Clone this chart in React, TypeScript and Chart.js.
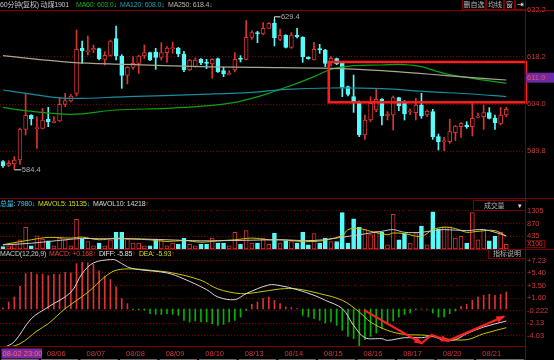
import React, { useEffect, useRef } from "react";
import { Chart, registerables } from "chart.js";

Chart.register(...registerables);

// ---------------- data ----------------
const opens = [586.7, 585.6, 586.0, 587.2, 596.4, 600.6, 596.6, 596.7, 599.4, 598.4,
  598.9, 603.9, 604.9, 607.2, 620.7, 619.7, 620.2, 620.6, 617.4, 618.6,
  623.6, 618.4, 612.6, 615.0, 616.2, 618.4, 619.4, 619.6, 618.0, 619.4,
  620.6, 620.8, 619.0, 614.2, 615.2, 617.4, 616.6, 616.0, 617.6, 614.0,
  612.9, 614.2, 617.8, 617.4, 624.0, 625.4, 625.0, 626.7, 628.2, 623.4,
  624.6, 621.0, 624.6, 624.0, 618.0, 617.2, 620.6, 620.2, 616.4, 617.6,
  616.2, 609.2, 606.2, 604.7, 594.7, 599.2, 602.2, 605.4, 600.4, 600.7,
  605.9, 604.2, 601.6, 601.4, 603.7, 600.7, 601.7, 594.2, 592.7, 592.7,
  595.4, 597.2, 597.7, 597.2, 600.0, 600.2, 601.4, 599.7, 598.0, 600.7];
const closes = [585.4, 586.2, 587.2, 596.5, 600.6, 599.6, 596.9, 599.2, 598.6, 598.9,
  603.9, 605.0, 606.4, 620.4, 620.0, 620.0, 620.7, 617.6, 618.6, 622.9,
  618.4, 612.6, 615.0, 616.2, 618.4, 619.4, 617.2, 618.0, 619.4, 620.8,
  620.8, 619.0, 614.2, 617.2, 617.2, 616.4, 616.2, 617.4, 613.7, 613.0,
  613.2, 617.4, 617.4, 624.0, 625.4, 625.0, 626.7, 628.2, 623.9, 624.6,
  621.0, 624.7, 624.2, 618.2, 617.6, 620.4, 620.2, 616.2, 617.7, 616.0,
  609.0, 606.9, 604.7, 594.7, 599.2, 604.2, 605.4, 600.4, 601.0, 605.9,
  603.5, 601.0, 601.9, 603.7, 600.4, 601.9, 594.2, 592.7, 593.0, 595.7,
  597.4, 598.2, 597.2, 599.7, 600.4, 601.4, 599.7, 598.4, 600.7, 602.4];
const highs = [587.0, 587.0, 588.2, 596.8, 607.2, 600.8, 600.2, 602.7, 603.0, 600.2,
  605.9, 607.2, 606.8, 626.2, 622.9, 624.4, 621.7, 620.8, 619.7, 623.2,
  627.4, 618.8, 615.2, 618.2, 618.6, 621.7, 619.6, 620.7, 622.4, 621.2,
  622.6, 621.0, 619.8, 617.4, 617.8, 617.6, 617.4, 617.6, 617.8, 615.0,
  614.0, 619.4, 618.5, 629.0, 626.0, 625.8, 628.4, 628.4, 629.4, 626.4,
  624.8, 625.4, 626.7, 624.2, 618.2, 622.5, 621.9, 620.4, 618.2, 617.8,
  616.4, 609.4, 612.7, 604.9, 600.7, 606.2, 608.7, 605.6, 601.7, 606.4,
  606.0, 605.0, 602.5, 605.7, 607.2, 602.2, 602.4, 595.0, 594.0, 599.4,
  597.6, 598.4, 598.7, 604.2, 601.3, 603.7, 602.9, 600.7, 603.0, 603.0];
const lows = [585.0, 585.2, 584.4, 585.9, 594.7, 597.7, 590.7, 596.5, 597.2, 598.3,
  598.7, 603.2, 604.6, 606.4, 616.2, 618.7, 619.4, 617.2, 615.7, 618.4,
  617.2, 608.7, 610.0, 614.4, 613.2, 617.7, 617.0, 614.4, 617.2, 616.5,
  619.2, 618.2, 613.7, 614.0, 615.0, 615.8, 614.6, 611.7, 613.5, 612.2,
  612.8, 613.6, 616.6, 617.2, 623.4, 622.4, 624.8, 626.7, 621.4, 623.0,
  620.8, 620.7, 623.8, 616.5, 617.4, 617.2, 619.2, 615.2, 615.4, 615.8,
  606.2, 606.4, 601.5, 594.2, 593.4, 598.7, 601.7, 597.7, 599.2, 596.2,
  602.0, 599.2, 600.8, 599.2, 599.7, 600.2, 593.4, 590.2, 590.0, 592.2,
  593.0, 594.0, 596.7, 594.4, 599.8, 596.4, 599.5, 596.4, 597.7, 600.2];

// volume in lots x100
const volumes = [80, 105, 164, 316, 748, 105, 456, 339, 281, 105,
  374, 316, 105, 1017, 339, 257, 105, 199, 105, 316,
  573, 573, 339, 199, 199, 105, 105, 339, 316, 105,
  199, 164, 374, 164, 105, 164, 164, 374, 199, 199,
  105, 573, 164, 631, 199, 199, 374, 164, 550, 199,
  281, 257, 199, 573, 140, 526, 199, 374, 257, 257,
  1251, 199, 1040, 748, 666, 491, 608, 573, 140, 1192,
  316, 526, 199, 526, 783, 140, 1274, 690, 760, 760,
  374, 433, 199, 1251, 316, 666, 281, 433, 573, 164];

const macdHist = [0.17, 1.05, 1.8, 3.4, 5.3, 5.5, 5.2, 5.2, 5.0, 5.2,
  5.2, 5.5, 5.4, 6.8, 7.0, 6.9, 6.7, 5.7, 4.9, 4.4,
  3.3, 1.55, 0.8, -0.1, -0.1, -0.2, -0.7, -0.8, -0.8, -0.7,
  -0.8, -0.95, -1.7, -1.95, -1.8, -1.95, -1.95, -2.2, -2.45, -2.3,
  -1.95, -1.7, -1.2, -0.2, 0.7, 1.05, 1.55, 1.8, 1.3, 0.8,
  0.3, 0.2, 0.05, -0.95, -1.2, -1.45, -1.7, -2.1, -1.95, -2.45,
  -3.2, -4.1, -4.45, -5.7, -4.6, -4.1, -3.6, -2.95, -2.3, -1.8,
  -1.2, -0.85, -0.6, -0.1, 0.03, -0.05, -0.6, -1.2, -1.2, -0.7,
  -0.3, 0.4, 0.7, 1.3, 1.8, 2.05, 2.2, 2.05, 2.2, 2.55];

// moving averages read at [bar index, value]
const ma60Pts = [[0, 603.0], [4, 602.0], [12, 600.9], [20, 602.2], [29, 602.7], [37, 603.6], [41, 604.5], [44, 605.7], [47, 607.2], [49, 608.4], [52, 610.2], [55, 612.2], [58, 614.4], [62, 615.5], [67, 615.7], [70, 615.9], [72, 615.7], [74, 615.2], [78, 613.2], [83, 611.7], [89, 610.2]];
const ma120Pts = [[0, 608.2], [4, 607.2], [11, 605.7], [22, 606.2], [35, 606.9], [44, 607.5], [50, 608.4], [58, 608.8], [67, 608.6], [75, 607.7], [83, 607.0], [89, 606.2]];
const ma250Pts = [[0, 618.5], [12, 616.5], [22, 615.9], [35, 615.2], [45, 615.0], [58, 614.7], [67, 614.0], [75, 613.0], [83, 611.9], [89, 611.2]];
const mavol5Pts = [[0, 151], [5, 316], [8, 397], [12, 374], [14, 409], [17, 316], [20, 374], [23, 339], [26, 316], [29, 257], [32, 292], [35, 234], [38, 281], [41, 316], [44, 374], [47, 316], [49, 316], [55, 257], [60, 456], [61, 666], [63, 701], [65, 608], [68, 491], [69, 550], [71, 526], [74, 433], [76, 666], [78, 748], [80, 701], [82, 573], [84, 608], [87, 631], [89, 433]];
const mavol10Pts = [[0, 142], [5, 199], [11, 316], [14, 362], [17, 351], [23, 351], [29, 316], [35, 281], [41, 292], [49, 316], [55, 292], [61, 433], [65, 550], [67, 608], [69, 666], [71, 573], [74, 573], [76, 631], [78, 666], [82, 631], [85, 666], [89, 456]];
const diffPts = [[0, -5.85], [2, -4.9], [5, -1.45], [8, 0.3], [12, 2.5], [14, 5.3], [16, 6.9], [19, 7.4], [20, 7.3], [22, 6.3], [24, 5.9], [29, 5.4], [32, 4.5], [36, 2.9], [38, 1.8], [41, 1.4], [43, 2.3], [47, 3.6], [49, 3.5], [52, 2.9], [55, 2.05], [57, 1.3], [60, 0.05], [62, -2.45], [64, -4.3], [67, -4.45], [68, -4.7], [71, -4.3], [74, -4.3], [76, -4.1], [78, -4.7], [80, -4.6], [82, -3.7], [85, -2.7], [89, -1.8]];
const deaPts = [[0, -5.93], [3, -5.2], [6, -3.3], [8, -2.2], [11, 0.05], [15, 2.5], [18, 4.8], [20, 5.8], [23, 6.0], [26, 5.8], [30, 5.4], [35, 4.3], [38, 3.0], [42, 2.3], [45, 2.5], [49, 3.0], [52, 3.0], [56, 2.3], [60, 1.3], [63, -0.45], [65, -1.95], [68, -3.2], [71, -3.8], [75, -3.95], [78, -4.45], [82, -4.6], [85, -3.7], [89, -2.8]];

// axis ticks & labels
const priceTicks = [632.2, 618.2, 604.0, 589.8];
const volTicks = [1305, 870, 435];
const macdTicks = [7.23, 5.40, 3.50, 1.60, -0.222, -2.13, -4.03];
const macdTickLabels = ["+7.23", "+5.40", "+3.50", "+1.60", "-0.222", "-2.13", "-4.03"];
const dayLabels = ["08/06", "08/07", "08/08", "08/09", "08/10", "08/13", "08/14", "08/15", "08/16", "08/17", "08/20", "08/21"];
const dayStarts = [7, 14, 21, 28, 35, 42, 49, 56, 63, 70, 77, 84];
const firstLabel = "08-02 23:00";
const markedPrice = 611.9;
const highMark = { idx: 48, value: 629.4 };
const lowMark = { idx: 2, value: 584.4 };
const markBox = { fromIdx: 57.6, top: 616.6, bottom: 604.5 };
const macdArrow = [[64, -0.25], [74, -5.13], [75.8, -3.9], [78.7, -4.75], [88.5, -1.15]];

// ---------------- styles ----------------
const FONT = '"Liberation Sans", "Noto Sans CJK SC", sans-serif';
const RED = "#dc3232";
const CYAN = "#54fcfc";
const GREEN = "#00b400";
const AXIS_TXT = "#d03a3a";
const PANEL_LINE = "#800000";
const GRID_DOT = "#7a0000";
const X_MIN = -0.53;
const X_MAX = 92.31;

const idxs = opens.map((_, i) => i);
const up = idxs.map((i) => closes[i] >= opens[i]);
const candleColor = idxs.map((i) => (up[i] ? RED : CYAN));
const candleFill = idxs.map((i) => (up[i] ? "#000000" : CYAN));
const toXY = (arr: number[][]) => arr.map(([x, y]) => ({ x, y }));

function lineDs(pts: number[][], color: string, width = 1) {
  return {
    type: "line" as const,
    data: toXY(pts),
    borderColor: color,
    borderWidth: width,
    pointRadius: 0,
    tension: 0.35,
    order: 1,
  };
}

function baseOptions(yMin: number, yMax: number, ticks: number[], labelFn: any, padding: any) {
  return {
    responsive: false,
    animation: false,
    events: [],
    layout: { padding },
    plugins: { legend: { display: false }, tooltip: { enabled: false } },
    scales: {
      x: { type: "linear", min: X_MIN, max: X_MAX, offset: false, display: false },
      y: {
        type: "linear",
        position: "right",
        min: yMin,
        max: yMax,
        afterFit: (s: any) => {
          s.width = 29;
          s.paddingTop = 0;
          s.paddingBottom = 0;
        },
        afterBuildTicks: (s: any) => {
          s.ticks = ticks.map((v) => ({ value: v }));
        },
        ticks: {
          color: AXIS_TXT,
          font: { family: FONT, size: 7.5 },
          padding: 2,
          autoSkip: false,
          callback: labelFn,
        },
        grid: { color: GRID_DOT, drawTicks: false, lineWidth: 1 },
        border: { display: false, dash: [1, 2] },
      },
    },
  };
}

const mainOverlay = {
  id: "mainOverlay",
  afterDraw(chart: any) {
    const { ctx, chartArea, scales } = chart;
    const xs = scales.x;
    const ys = scales.y;
    ctx.save();
    ctx.font = `7.5px ${FONT}`;
    ctx.textBaseline = "middle";
    ctx.textAlign = "left";
    // high mark
    let x = xs.getPixelForValue(highMark.idx);
    let y = ys.getPixelForValue(highMark.value);
    ctx.strokeStyle = "#e8e8e8";
    ctx.lineWidth = 1;
    ctx.beginPath();
    ctx.moveTo(Math.round(x) + 0.5, y);
    ctx.lineTo(Math.round(x) + 0.5, y - 2.5);
    ctx.lineTo(x + 6, y - 2.5);
    ctx.stroke();
    ctx.fillStyle = "#b0b0b0";
    ctx.fillText(highMark.value.toFixed(1), x + 6.5, y - 2);
    // low mark
    x = xs.getPixelForValue(lowMark.idx);
    y = ys.getPixelForValue(lowMark.value);
    ctx.beginPath();
    ctx.moveTo(x, y + 0.5);
    ctx.lineTo(x + 7, y + 0.5);
    ctx.stroke();
    ctx.fillText(lowMark.value.toFixed(1), x + 7.5, y + 0.5);
    // red box
    const x1 = xs.getPixelForValue(markBox.fromIdx);
    const x2 = chartArea.right + 1;
    const y1 = ys.getPixelForValue(markBox.top);
    const y2 = ys.getPixelForValue(markBox.bottom);
    ctx.strokeStyle = "#ff1e1e";
    ctx.lineWidth = 2.5;
    ctx.strokeRect(x1, y1, x2 - x1, y2 - y1);
    // marked price label
    const yp = ys.getPixelForValue(markedPrice);
    ctx.fillStyle = "#6c2aa6";
    ctx.fillRect(chartArea.right + 1, yp - 5, 29, 10);
    ctx.fillStyle = "#ff5050";
    ctx.fillText(markedPrice.toFixed(1), chartArea.right + 2, yp + 0.5);
    ctx.restore();
  },
};

const macdOverlay = {
  id: "macdOverlay",
  afterDraw(chart: any) {
    const { ctx, chartArea, scales } = chart;
    const xs = scales.x;
    const ys = scales.y;
    ctx.save();
    // arrows
    const p = macdArrow.map(([i, v]) => [xs.getPixelForValue(i), ys.getPixelForValue(v)]);
    ctx.strokeStyle = "#ff2020";
    ctx.fillStyle = "#ff2020";
    ctx.lineWidth = 2.2;
    ctx.lineCap = "round";
    ctx.beginPath();
    ctx.moveTo(p[0][0], p[0][1]);
    for (let k = 1; k < p.length; k++) ctx.lineTo(p[k][0], p[k][1]);
    ctx.stroke();
    const head = (a: number[], b: number[]) => {
      const ang = Math.atan2(b[1] - a[1], b[0] - a[0]);
      const L = 7;
      const W = 3.2;
      ctx.beginPath();
      ctx.moveTo(b[0] + Math.cos(ang) * 2, b[1] + Math.sin(ang) * 2);
      ctx.lineTo(b[0] - Math.cos(ang) * L + Math.sin(ang) * W, b[1] - Math.sin(ang) * L - Math.cos(ang) * W);
      ctx.lineTo(b[0] - Math.cos(ang) * L - Math.sin(ang) * W, b[1] - Math.sin(ang) * L + Math.cos(ang) * W);
      ctx.closePath();
      ctx.fill();
    };
    head(p[0], p[1]);
    head(p[2], p[3]);
    head(p[3], p[4]);
    // date labels
    const yText = chartArea.bottom + 7.5;
    ctx.font = `7.5px ${FONT}`;
    ctx.textBaseline = "middle";
    ctx.textAlign = "center";
    ctx.fillStyle = AXIS_TXT;
    dayStarts.forEach((d, k) => {
      ctx.fillText(dayLabels[k], xs.getPixelForValue(d) + 13.7, yText);
    });
    ctx.fillStyle = "#7a2a9e";
    ctx.fillRect(1.5, yText - 5, 40.5, 10);
    ctx.fillStyle = "#ff6a6a";
    ctx.textAlign = "left";
    ctx.fillText(firstLabel, 2.5, yText + 0.5);
    // bottom scroll tabs
    ctx.strokeStyle = "#6e6e6e";
    ctx.lineWidth = 1;
    const bounds = [chartArea.left, ...dayStarts.map((d) => xs.getPixelForValue(d - 0.5)), chartArea.right];
    for (let k = 0; k < bounds.length - 1; k++) {
      ctx.beginPath();
      ctx.moveTo(bounds[k] + 1.5, chartArea.bottom + 13.5);
      ctx.lineTo(bounds[k + 1] - 1.5, chartArea.bottom + 13.5);
      ctx.stroke();
    }
    ctx.restore();
  },
};

function ChartCanvas({ top, height, build }: { top: number; height: number; build: () => any }) {
  const ref = useRef<HTMLCanvasElement>(null);
  useEffect(() => {
    const chart = new Chart(ref.current as HTMLCanvasElement, build());
    return () => chart.destroy();
  }, []);
  return (
    <canvas
      ref={ref}
      width={554}
      height={height}
      style={{ position: "absolute", left: 0, top, width: 554, height }}
    />
  );
}

function buildMain() {
  return {
    type: "bar",
    data: {
      datasets: [
        lineDs(ma250Pts, "#a8a890", 1.2),
        lineDs(ma120Pts, "#1a8c9c", 1.2),
        lineDs(ma60Pts, "#10a010", 1.2),
        {
          type: "bar",
          data: idxs.map((i) => ({ x: i, y: [opens[i], closes[i]] })),
          backgroundColor: candleFill,
          borderColor: candleColor,
          borderWidth: 1,
          borderSkipped: false,
          barThickness: 4,
          minBarLength: 1,
          grouped: false,
          order: 2,
        },
        {
          type: "bar",
          data: idxs.map((i) => ({ x: i, y: [lows[i], highs[i]] })),
          backgroundColor: candleColor,
          borderWidth: 0,
          barThickness: 1,
          grouped: false,
          order: 3,
        },
      ],
    },
    options: baseOptions(575.8, 632.2, priceTicks, (v: any) => Number(v).toFixed(1), { top: 10, right: 0, bottom: 0, left: 0 }),
    plugins: [mainOverlay],
  };
}

function buildVol() {
  return {
    type: "bar",
    data: {
      datasets: [
        lineDs(mavol10Pts, "#c8c8c8", 1),
        lineDs(mavol5Pts, "#c8c800", 1),
        {
          type: "bar",
          data: idxs.map((i) => ({ x: i, y: volumes[i] })),
          backgroundColor: candleFill,
          borderColor: candleColor,
          borderWidth: 1,
          borderSkipped: false,
          barThickness: 4,
          grouped: false,
          order: 2,
        },
      ],
    },
    options: baseOptions(0, 1751, volTicks, (v: any) => String(v), { top: 0, right: 0, bottom: 0, left: 0 }),
  };
}

function buildMacd() {
  return {
    type: "bar",
    data: {
      datasets: [
        lineDs(diffPts, "#d8d8d8", 1),
        lineDs(deaPts, "#c8c800", 1),
        {
          type: "bar",
          data: idxs.map((i) => ({ x: i, y: macdHist[i] })),
          backgroundColor: macdHist.map((v) => (v >= 0 ? RED : GREEN)),
          borderWidth: 0,
          barThickness: 1,
          grouped: false,
          order: 2,
        },
      ],
    },
    options: baseOptions(-5.54, 8.83, macdTicks, (_v: any, k: number) => macdTickLabels[k], { top: 0, right: 0, bottom: 14, left: 0 }),
    plugins: [macdOverlay],
  };
}

function T({ x, y, color, children, size = 7 }: any) {
  return (
    <div
      style={{
        position: "absolute", left: x, top: y, color, fontSize: size, lineHeight: "10px",
        whiteSpace: "nowrap", letterSpacing: "-0.2px",
      }}
    >
      {children}
    </div>
  );
}

function HLine({ y, x = 0, w = 554 }: any) {
  return <div style={{ position: "absolute", left: x, top: y, width: w, height: 1, background: PANEL_LINE }} />;
}

function Box({ x, y, w, h, children, color = "#b8b8b8", size = 7 }: any) {
  return (
    <div
      style={{
        position: "absolute", left: x, top: y, width: w, height: h, boxSizing: "border-box",
        border: `1px solid ${PANEL_LINE}`, color, fontSize: size, lineHeight: `${h - 2}px`,
        textAlign: "center", whiteSpace: "nowrap", overflow: "hidden",
      }}
    >
      {children}
    </div>
  );
}

export default function App() {
  return (
    <div
      style={{
        position: "fixed", left: 0, top: 0, width: 554, height: 360, background: "#000",
        overflow: "hidden", fontFamily: FONT,
      }}
    >
      <ChartCanvas top={0} height={198} build={buildMain} />
      <ChartCanvas top={198} height={51} build={buildVol} />
      <ChartCanvas top={250} height={110} build={buildMacd} />

      <HLine y={10} />
      <HLine y={198} />
      <HLine y={249} />
      <HLine y={346} w={526} />
      <div style={{ position: "absolute", left: 525, top: 0, width: 1, height: 360, background: PANEL_LINE }} />

      {/* header row */}
      <T x={0} y={0} color="#c8c8c8">60分钟(复权) 动煤1901</T>
      <T x={76} y={0} color="#18b018">MA60: 603.0<span style={{ color: "#40c0e0" }}>↓</span></T>
      <T x={120} y={0} color="#20a0b0">MA120: 608.0<span style={{ color: "#40c0e0" }}>↓</span></T>
      <T x={168} y={0} color="#b8b8a0">MA250: 618.4<span style={{ color: "#40c0e0" }}>↓</span></T>

      <Box x={462} y={-1} w={24} h={11}>删自选</Box>
      <Box x={486} y={-1} w={18} h={11}>均线</Box>
      <Box x={504} y={-1} w={11} h={11}>窗</Box>
      <Box x={515} y={-1} w={11} h={11} size={8} color="#e8e8e8">⇥</Box>

      {/* volume header */}
      <T x={0} y={198.5} color="#3cc8f0">总量: 7980↓</T>
      <T x={38} y={198.5} color="#d8d820">MAVOL5: 15135<span style={{ color: "#40c0e0" }}>↓</span></T>
      <T x={93} y={198.5} color="#d8d8d8">MAVOL10: 14218<span style={{ color: "#ff3030" }}>↑</span></T>
      <div style={{ position: "absolute", left: 473, top: 200, width: 53, height: 11, boxSizing: "border-box", border: `1px solid ${PANEL_LINE}` }}>
        <T x={10} y={0} color="#b0b0b0">成交量</T>
        <T x={44} y={-0.5} color="#e0e0e0">▾</T>
      </div>
      <div style={{ position: "absolute", left: 525, top: 240, width: 20, height: 8, boxSizing: "border-box", border: `1px solid ${PANEL_LINE}` }} />
      <T x={527} y={239} color={AXIS_TXT}>X100</T>

      {/* macd header */}
      <T x={0} y={248.5} color="#c8c8c8">MACD(12,26,9)</T>
      <T x={49} y={248.5} color="#e04040">MACD: +0.168↑</T>
      <T x={99} y={248.5} color="#e0e0e0">DIFF: -5.85<span style={{ color: "#ff3030" }}>↑</span></T>
      <T x={139} y={248.5} color="#d8d820">DEA: -5.93<span style={{ color: "#ff3030" }}>↑</span></T>
      <Box x={488} y={249} w={38} h={10}>指标说明</Box>
    </div>
  );
}
